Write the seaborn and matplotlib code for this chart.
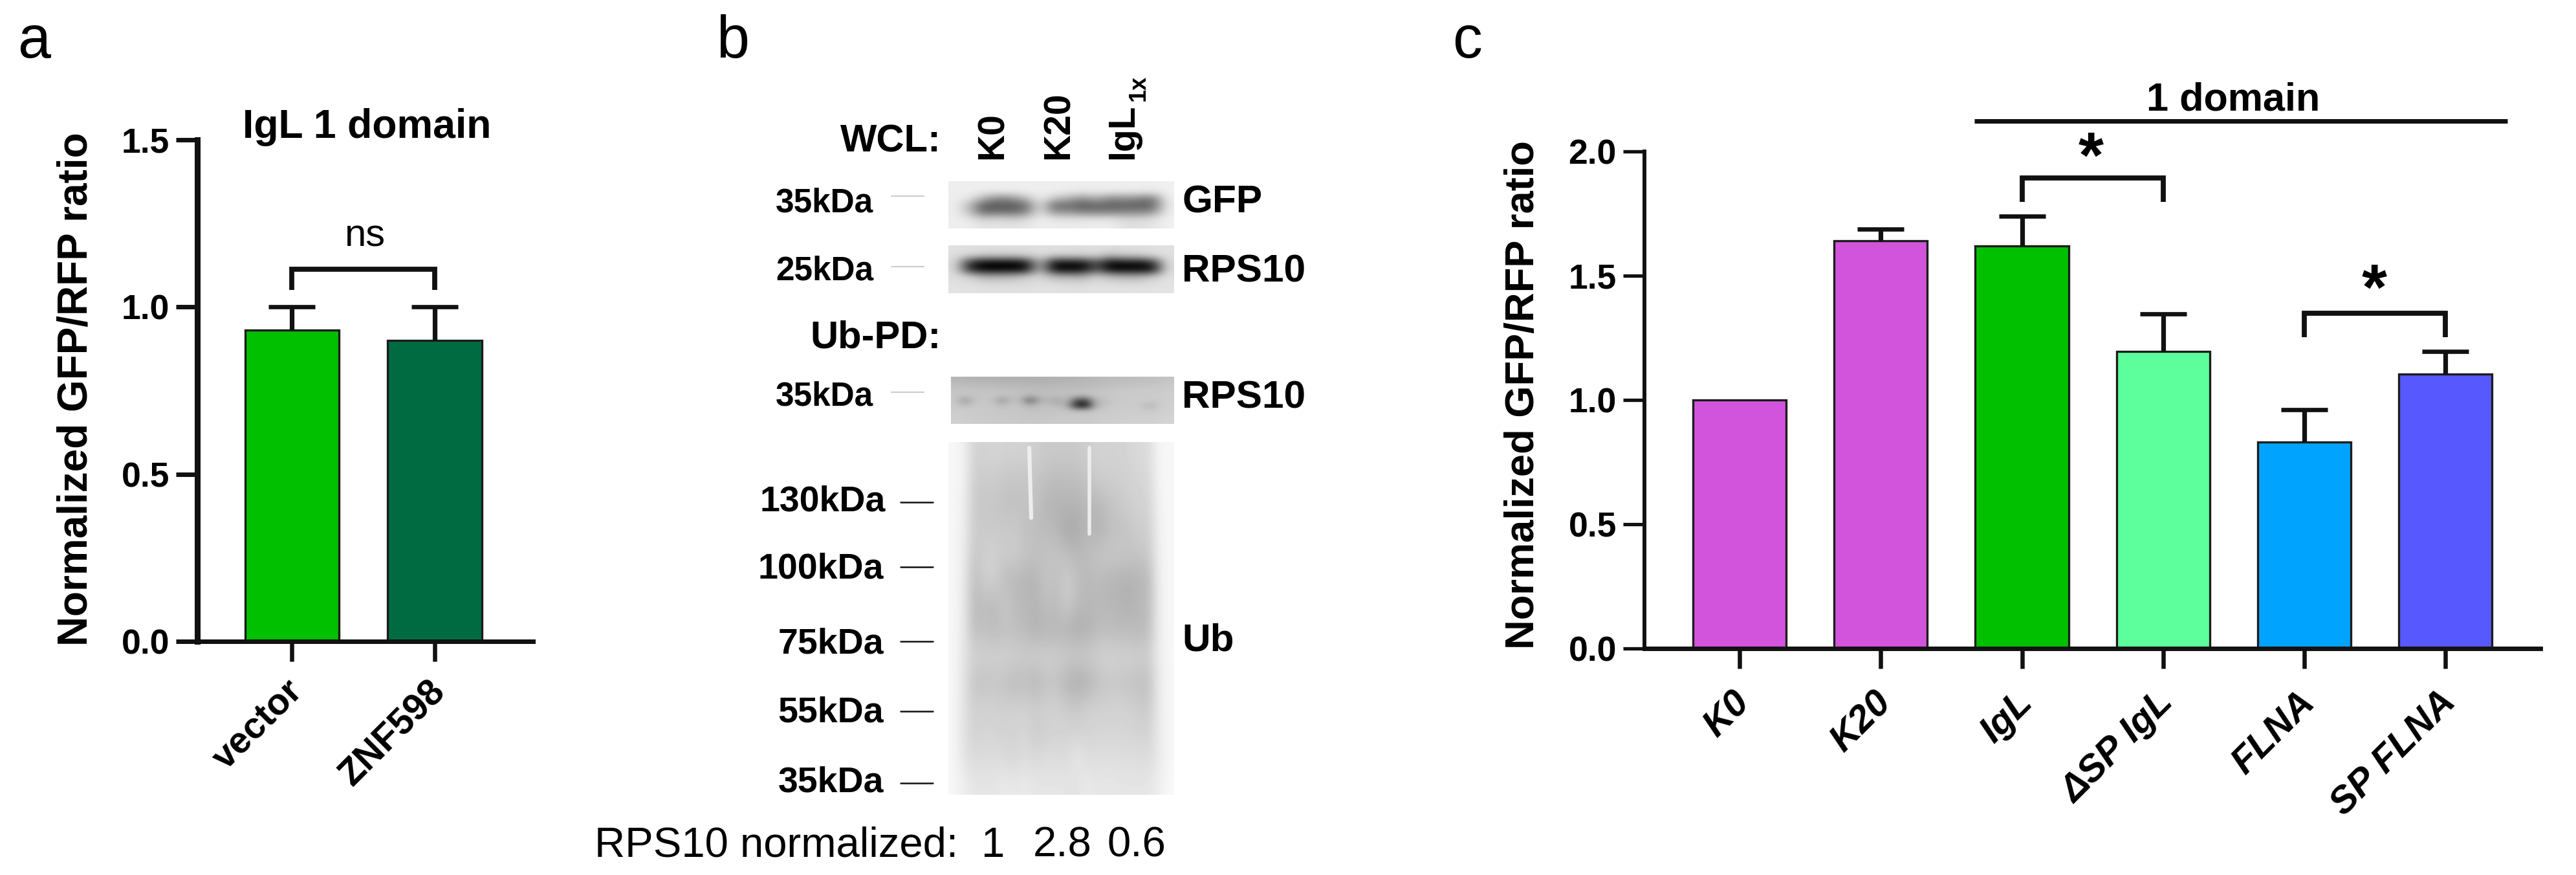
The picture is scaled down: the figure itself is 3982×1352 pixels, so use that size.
#!/usr/bin/env python
import numpy as np
from matplotlib import pyplot as plt
from matplotlib.transforms import ScaledTranslation
import seaborn as sns

W, H = 3982, 1352

# panel a
a_cats = ['vector', 'ZNF598']
a_vals = [0.93, 0.90]
a_tops = [1.00, 1.00]
a_cols = ['#00C000', '#006B40']

# panel c
c_cats = ['K0', 'K20', 'IgL', '\u0394SP IgL', 'FLNA', 'SP FLNA']
c_vals = [1.00, 1.64, 1.62, 1.195, 0.83, 1.105]
c_tops = [1.00, 1.688, 1.74, 1.346, 0.96, 1.195]
c_cols = ['#D254DC', '#D254DC', '#00C000', '#5CFF9C', '#00A4FF', '#5858FF']

# panel b: blot grey levels
gfp_blot = [
  [238, 238, 238, 238, 238, 238, 238, 238, 238, 238, 238, 238, 238, 238, 238, 240],
  [238, 238, 236, 236, 236, 238, 238, 238, 235, 232, 235, 235, 235, 235, 232, 240],
  [238, 232, 180, 140, 150, 190, 238, 200, 180, 150, 180, 140, 150, 140, 125, 240],
  [238, 190, 95, 90, 90, 110, 232, 105, 115, 90, 105, 95, 100, 95, 95, 235],
  [238, 195, 100, 110, 105, 125, 232, 140, 145, 125, 125, 125, 130, 130, 140, 238],
  [238, 228, 200, 210, 200, 210, 238, 225, 222, 222, 222, 225, 212, 212, 222, 240],
  [238, 238, 226, 230, 226, 230, 238, 236, 236, 236, 238, 238, 224, 224, 228, 240],
]
rps10_blot = [
  [224, 224, 222, 222, 222, 222, 224, 224, 222, 222, 224, 222, 222, 222, 224, 224],
  [222, 210, 200, 198, 198, 205, 218, 205, 205, 205, 210, 180, 200, 200, 215, 224],
  [220, 50, 5, 5, 5, 20, 190, 15, 20, 20, 90, 5, 20, 15, 50, 222],
  [220, 40, 0, 0, 0, 10, 190, 5, 0, 0, 90, 0, 0, 0, 5, 222],
  [222, 205, 170, 170, 175, 195, 215, 175, 170, 165, 205, 180, 170, 170, 195, 224],
  [224, 222, 215, 215, 215, 218, 222, 218, 215, 215, 222, 218, 216, 216, 222, 226],
  [226, 226, 224, 224, 224, 224, 226, 226, 224, 224, 226, 226, 226, 226, 226, 228],
]
ubpd_blot = [
  [180, 180, 178, 178, 178, 176, 176, 176, 176, 176, 176, 178, 178, 180, 182, 184, 186, 188, 188, 190, 190, 192, 194, 196],
  [188, 188, 186, 186, 186, 184, 184, 184, 182, 182, 182, 182, 184, 184, 186, 188, 190, 192, 194, 194, 196, 196, 198, 200],
  [196, 196, 194, 194, 194, 192, 192, 190, 190, 188, 188, 190, 190, 190, 192, 194, 196, 198, 200, 200, 200, 202, 202, 204],
  [198, 198, 196, 198, 198, 196, 194, 192, 185, 190, 192, 192, 192, 192, 194, 198, 200, 200, 202, 202, 202, 204, 204, 206],
  [200, 150, 194, 198, 194, 150, 190, 185, 95, 170, 180, 165, 185, 90, 70, 180, 190, 200, 202, 202, 204, 202, 204, 206],
  [202, 190, 200, 200, 200, 188, 198, 194, 180, 192, 192, 185, 175, 30, 12, 172, 194, 202, 202, 204, 198, 180, 204, 208],
  [204, 204, 202, 202, 200, 200, 200, 198, 196, 196, 196, 198, 198, 195, 192, 200, 202, 204, 204, 206, 204, 202, 206, 208],
  [206, 204, 202, 200, 200, 200, 200, 198, 198, 198, 198, 200, 200, 200, 200, 202, 204, 204, 206, 206, 206, 206, 208, 210],
  [208, 206, 204, 204, 202, 202, 202, 200, 200, 200, 202, 202, 202, 202, 202, 204, 206, 206, 208, 208, 208, 208, 210, 212],
]
ub_blot = [
  [246, 240, 205, 205, 208, 205, 205, 205, 200, 195, 195, 195, 195, 200, 205, 205, 205, 208, 212, 215, 244, 246],
  [246, 240, 200, 196, 198, 192, 190, 190, 190, 185, 180, 182, 182, 190, 198, 200, 200, 204, 208, 210, 244, 246],
  [246, 238, 196, 192, 192, 186, 188, 188, 188, 172, 170, 172, 170, 178, 172, 186, 192, 200, 205, 205, 242, 246],
  [246, 236, 198, 196, 196, 196, 194, 188, 180, 180, 176, 158, 160, 175, 168, 178, 188, 188, 200, 200, 240, 246],
  [246, 234, 192, 202, 204, 196, 200, 190, 186, 188, 190, 186, 176, 182, 190, 194, 194, 190, 190, 194, 238, 246],
  [246, 232, 182, 200, 202, 180, 176, 172, 170, 190, 182, 200, 186, 174, 180, 172, 170, 168, 172, 176, 236, 246],
  [246, 232, 178, 182, 176, 198, 180, 178, 172, 184, 180, 198, 180, 176, 176, 176, 174, 168, 176, 180, 236, 246],
  [246, 230, 182, 186, 180, 184, 182, 178, 168, 172, 172, 168, 162, 166, 178, 182, 178, 180, 176, 180, 236, 246],
  [246, 226, 206, 206, 204, 206, 204, 200, 204, 204, 202, 202, 200, 202, 204, 208, 206, 206, 204, 204, 234, 246],
  [246, 224, 188, 186, 190, 186, 176, 182, 172, 186, 186, 170, 160, 166, 182, 192, 190, 188, 184, 182, 232, 246],
  [246, 224, 202, 206, 204, 202, 204, 204, 200, 204, 204, 198, 194, 202, 204, 204, 206, 204, 198, 196, 232, 246],
  [246, 222, 204, 208, 206, 206, 206, 210, 196, 202, 206, 206, 204, 206, 208, 208, 208, 208, 206, 204, 230, 246],
  [246, 224, 212, 216, 216, 212, 208, 216, 212, 216, 216, 212, 230, 216, 218, 218, 218, 216, 216, 214, 230, 246],
  [246, 236, 226, 226, 226, 232, 228, 232, 226, 226, 226, 226, 222, 232, 226, 228, 226, 226, 226, 226, 236, 248],
]

kda_top = [('35kDa', 309, 303), ('25kDa', 414, 412), ('35kDa', 608, 606)]
kda_ub = [('130kDa', 771, 776, 1369), ('100kDa', 874, 876, 1366),
          ('75kDa', 990, 991, 1366), ('55kDa', 1097, 1099, 1366),
          ('35kDa', 1204, 1210, 1366)]
lanes = [('K0', 1535), ('K20', 1637), ('IgL', 1736)]
rps_norm = [('1', 1535), ('2.8', 1642), ('0.6', 1757)]

sns.set_theme(style='ticks')
plt.rcParams['font.family'] = ['Liberation Sans', 'DejaVu Sans']
plt.rcParams['axes.labelcolor'] = 'black'
plt.rcParams['xtick.color'] = 'black'
plt.rcParams['ytick.color'] = 'black'
plt.rcParams['text.color'] = 'black'

fig = plt.figure(figsize=(W / 100, H / 100), dpi=100, facecolor='white')


def px_axes(left, top, right, bottom):
  return fig.add_axes([left / W, 1 - bottom / H, (right - left) / W, (bottom - top) / H])


def bar_panel(ax, cats, vals, tops, cols, ylim, yticks, xlim, italic, lw_left, lw_bot,
              xsize, xpad, ytick_w):
  sns.barplot(x=cats, y=vals, hue=cats, palette=cols, legend=False, width=0.66,
              saturation=1, edgecolor='#1c1c1c', linewidth=2.4, errorbar=None, ax=ax)
  xs = np.arange(len(cats))
  vals = np.array(vals)
  tops = np.array(tops)
  keep = tops > vals
  eb = ax.errorbar(xs[keep], vals[keep], yerr=[np.zeros(keep.sum()), (tops - vals)[keep]],
                   fmt='none', ecolor='#111111', elinewidth=5.2, capsize=26, capthick=4.8, zorder=1)
  eb[1][0].set_visible(False)
  ax.set_xlim(*xlim)
  ax.set_ylim(*ylim)
  ax.set_yticks(yticks)
  ax.set_yticklabels(['%.1f' % t for t in yticks], fontsize=38.5, fontweight='bold')
  ax.set_xticks(xs)
  ax.set_xticklabels(cats, fontsize=xsize, fontweight='bold', rotation=45, ha='right',
                     va='center', rotation_mode='anchor',
                     fontstyle='italic' if italic else 'normal')
  ax.tick_params(axis='y', length=24, width=ytick_w, pad=7, color='#111111')
  ax.tick_params(axis='x', length=22, width=4.7, pad=xpad, color='#111111')
  # labels sit a little right of the tick in the reference
  nudge = ScaledTranslation(0.08, 0, fig.dpi_scale_trans)
  for lab in ax.get_xticklabels():
    lab.set_transform(lab.get_transform() + nudge)
  sns.despine(ax=ax)
  ax.spines['left'].set_linewidth(lw_left)
  ax.spines['bottom'].set_linewidth(lw_bot)
  ax.spines['left'].set_color('#111111')
  ax.spines['bottom'].set_color('#111111')
  ax.patch.set_alpha(0)


def bracket(ax, x0, x1, ytop, ybot):
  ax.plot([x0, x0, x1, x1], [ybot, ytop, ytop, ybot], color='#111111', lw=5.6,
          solid_joinstyle='miter', solid_capstyle='butt', clip_on=False)


# a
ax_a = px_axes(305, 215.6, 824, 991)
bar_panel(ax_a, a_cats, a_vals, a_tops, a_cols, (0, 1.5), [0, 0.5, 1.0, 1.5],
          (-0.664, 1.689), False, 6.5, 5, 41, 28, 5)
ax_a.set_ylabel('Normalized GFP/RFP ratio', fontsize=46, fontweight='bold')
ax_a.yaxis.set_label_coords(-0.304, 0.503)
bracket(ax_a, 0, 1, 1.113, 1.05)

# c
ax_c = px_axes(2542, 234, 3927, 1002)
bar_panel(ax_c, c_cats, c_vals, c_tops, c_cols, (0, 2.0), [0, 0.5, 1.0, 1.5, 2.0],
          (-0.674, 5.673), True, 4.3, 5, 42, 32, 3.8)
ax_c.set_ylabel('Normalized GFP/RFP ratio', fontsize=45.5, fontweight='bold')
ax_c.yaxis.set_label_coords(-0.114, 0.51)
bracket(ax_c, 2, 3, 1.892, 1.796)
bracket(ax_c, 4, 5, 1.348, 1.252)

# overlay in reference pixels for panel b and free labels
ov = fig.add_axes([0, 0, 1, 1], zorder=5)
ov.patch.set_alpha(0)
ov.axis('off')


def blot(data, left, top, right, bottom, low=0):
  ov.imshow(np.array(data), cmap='gray', vmin=low, vmax=255, aspect='auto',
            interpolation='bicubic', extent=(left, right, bottom, top))


blot(gfp_blot, 1466, 280, 1815, 353)
blot(rps10_blot, 1466, 379, 1815, 453)
blot(ubpd_blot, 1470, 582, 1815, 655)
blot(ub_blot, 1466, 683, 1815, 1228, low=-30)
# white gaps between Ub lanes at the top of the membrane
ov.plot([1591, 1594], [692, 800], color='#f2f2f2', lw=4.5, alpha=0.9)
ov.plot([1684, 1684], [692, 825], color='#f2f2f2', lw=4, alpha=0.9)
ov.set_xlim(0, W)
ov.set_ylim(H, 0)


def txt(x, y, s, size=38, weight='bold', ha='center', **kw):
  ov.text(x, y + 5, s, fontsize=size, fontweight=weight, ha=ha, va='center', **kw)


for letter, x in [('a', 27), ('b', 1107), ('c', 2245)]:
  txt(x, 60, letter, size=66, weight='normal', ha='left')

txt(567, 192, 'IgL 1 domain', size=45)
txt(564, 360, 'ns', size=43, weight='normal')
txt(3452, 150, '1 domain', size=44)
ov.plot([3052, 3876], [187, 187], color='#111111', lw=5, solid_capstyle='butt')
txt(3232, 243, '*', size=72)
txt(3670, 447, '*', size=72)

txt(1455, 214, 'WCL:', size=43, ha='right')
txt(1455, 517, 'Ub-PD:', size=43, ha='right')
for name, x in lanes:
  ov.text(x, 246, name, fontsize=41, fontweight='bold', rotation=90, ha='center', va='bottom')
ov.text(1760, 156, '1x', fontsize=26, fontweight='bold', rotation=90, ha='center', va='bottom')

for name, y, yline in kda_top:
  txt(1350, y, name, size=37, ha='right')
  ov.plot([1378, 1428], [yline, yline], color='#cccccc', lw=1.5)
for name, y, yline, right in kda_ub:
  txt(right, y, name, size=40, ha='right')
  ov.plot([1392, 1442], [yline, yline], color='#111111', lw=1.8)

for name, y in [('GFP', 308), ('RPS10', 415), ('RPS10', 610), ('Ub', 985)]:
  txt(1827, y, name, size=43.5, ha='left')

txt(919, 1301, 'RPS10 normalized:', size=47, weight='normal', ha='left')
for name, x in rps_norm:
  txt(x, 1302, name, size=47, weight='normal')

plt.savefig('out.png', dpi=100)
plt.close('all')
